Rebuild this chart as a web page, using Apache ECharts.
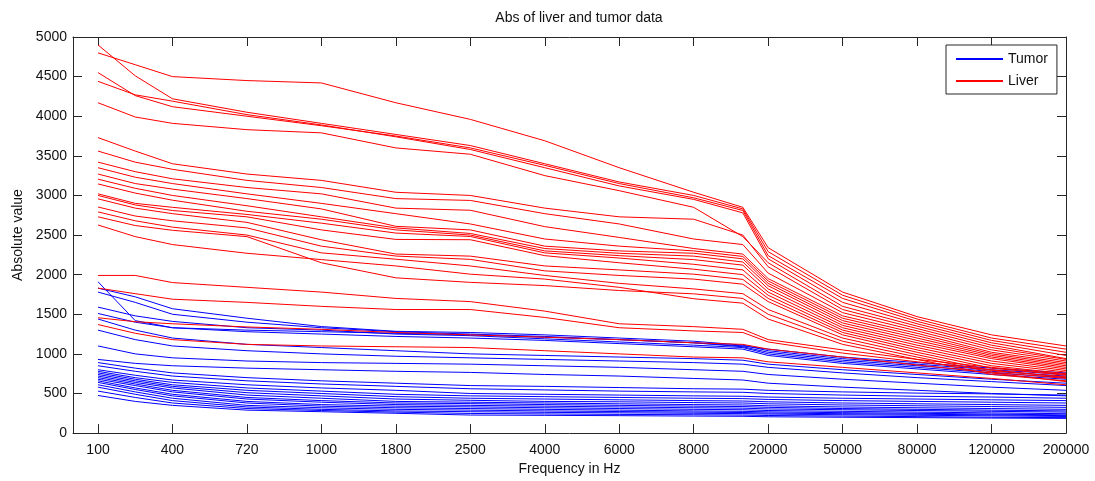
<!DOCTYPE html>
<html><head><meta charset="utf-8">
<script src="https://cdn.jsdelivr.net/npm/echarts@6/dist/echarts.min.js"></script>
<style>html,body{margin:0;padding:0;background:#fff}#c{width:1095px;height:481px}</style>
</head><body><div id="c"></div>
<script>
// sample positions along the (equally spaced) frequency tick index axis
const X_POS = [0, 0.5, 1, 2, 3, 4, 5, 6, 7, 8, 8.66, 9, 10, 11, 12, 13];
const X_TICK_LABELS = ['100','400','720','1000','1800','2500','4000','6000','8000','20000','50000','80000','120000','200000'];

const TUMOR_UPPER = [
  [1910, 1420, 1330, 1300, 1280, 1260, 1240, 1210, 1180, 1140, 1100, 1060, 960, 890, 820, 760],
  [1830, 1720, 1570, 1450, 1345, 1285, 1270, 1240, 1200, 1160, 1110, 1040, 940, 870, 800, 740],
  [1780, 1650, 1500, 1400, 1330, 1280, 1250, 1220, 1180, 1140, 1090, 1020, 920, 850, 780, 720],
  [1590, 1480, 1410, 1330, 1300, 1250, 1230, 1190, 1150, 1110, 1080, 1000, 900, 830, 760, 700],
  [1510, 1400, 1330, 1280, 1250, 1220, 1200, 1170, 1130, 1090, 1060, 980, 880, 810, 740, 680]
];
const TUMOR_MID = [
  [1440, 1300, 1200, 1120, 1080, 1040, 1000, 980, 960, 940, 920, 870, 800, 740, 680, 630],
  [1300, 1180, 1100, 1040, 1000, 970, 950, 930, 910, 890, 870, 830, 760, 700, 650, 600],
  [1100, 1000, 950, 910, 890, 880, 870, 850, 830, 800, 780, 740, 680, 630, 580, 540],
  [930, 880, 850, 820, 800, 780, 766, 740, 720, 690, 670, 630, 580, 540, 500, 470]
];
const TUMOR_LOW = [
  [890, 820, 760, 700, 660, 630, 600, 590, 575, 560, 555, 540, 520, 505, 495, 480],
  [850, 780, 720, 660, 620, 590, 560, 545, 530, 520, 515, 500, 480, 465, 455, 440],
  [800, 730, 670, 610, 570, 540, 500, 490, 480, 470, 465, 455, 440, 430, 420, 410],
  [780, 700, 640, 570, 530, 490, 470, 460, 450, 440, 435, 425, 410, 400, 390, 380],
  [760, 680, 610, 540, 500, 460, 440, 430, 420, 410, 405, 395, 380, 370, 360, 350],
  [740, 660, 590, 510, 470, 430, 414, 400, 395, 385, 380, 370, 355, 345, 335, 325],
  [720, 640, 570, 480, 440, 400, 390, 380, 370, 360, 355, 345, 330, 320, 310, 300],
  [700, 620, 540, 450, 410, 380, 372, 360, 350, 340, 335, 325, 310, 300, 290, 280],
  [680, 600, 520, 430, 390, 360, 350, 340, 330, 320, 315, 305, 295, 285, 275, 265],
  [660, 570, 490, 400, 360, 340, 331, 320, 310, 300, 295, 285, 275, 265, 255, 245],
  [640, 550, 470, 380, 340, 320, 310, 300, 290, 280, 275, 268, 258, 250, 240, 230],
  [610, 520, 440, 350, 320, 300, 290, 280, 272, 265, 260, 253, 245, 238, 230, 220],
  [580, 490, 410, 330, 300, 280, 270, 262, 256, 250, 246, 240, 232, 225, 218, 210],
  [530, 450, 380, 310, 285, 265, 248, 242, 236, 232, 228, 222, 215, 208, 200, 195],
  [475, 400, 350, 290, 270, 250, 228, 224, 220, 215, 212, 206, 200, 195, 190, 186]
];

const LIVER_TOP = [
  [4900, 4510, 4220, 4050, 3910, 3770, 3630, 3400, 3170, 3000, 2830, 2290, 1740, 1440, 1200, 1060],
  [4800, 4650, 4500, 4450, 4420, 4170, 3960, 3690, 3350, 3040, 2850, 2340, 1780, 1470, 1240, 1100],
  [4550, 4260, 4120, 4000, 3880, 3750, 3600, 3380, 3150, 2970, 2810, 2240, 1700, 1410, 1170, 1020],
  [4440, 4270, 4190, 4020, 3890, 3740, 3580, 3350, 3120, 2950, 2780, 2200, 1650, 1380, 1140, 980],
  [4170, 3990, 3910, 3830, 3790, 3600, 3520, 3250, 3060, 2850, 2480, 2150, 1600, 1350, 1110, 940]
];
const LIVER_MID = [
  [3730, 3560, 3400, 3270, 3190, 3040, 3000, 2840, 2730, 2700, 2500, 2100, 1560, 1320, 1080, 930],
  [3560, 3420, 3330, 3190, 3100, 2960, 2937, 2770, 2640, 2450, 2380, 2020, 1520, 1290, 1050, 910],
  [3420, 3300, 3210, 3100, 3020, 2840, 2813, 2606, 2470, 2330, 2260, 1950, 1480, 1260, 1020, 890],
  [3350, 3230, 3150, 3020, 2900, 2770, 2640, 2450, 2360, 2300, 2230, 1920, 1450, 1230, 1000, 870],
  [3270, 3150, 3080, 2960, 2830, 2610, 2565, 2360, 2300, 2270, 2200, 1890, 1420, 1200, 980, 850],
  [3205, 3090, 3000, 2870, 2730, 2590, 2520, 2330, 2270, 2234, 2160, 1860, 1390, 1170, 960, 830],
  [3145, 3030, 2940, 2800, 2700, 2565, 2500, 2300, 2240, 2190, 2120, 1820, 1360, 1140, 940, 810],
  [3020, 2900, 2850, 2760, 2650, 2525, 2482, 2275, 2210, 2131, 2060, 1780, 1330, 1110, 910, 790],
  [3000, 2880, 2810, 2730, 2565, 2445, 2441, 2240, 2150, 2069, 2000, 1740, 1300, 1080, 880, 770],
  [2957, 2840, 2770, 2660, 2440, 2260, 2234, 2110, 2060, 2006, 1940, 1700, 1270, 1050, 850, 750],
  [2854, 2740, 2680, 2590, 2360, 2235, 2193, 2048, 1990, 1944, 1880, 1660, 1240, 1020, 820, 730],
  [2792, 2680, 2600, 2500, 2275, 2195, 2110, 1990, 1890, 1820, 1760, 1560, 1200, 990, 790, 710],
  [2730, 2620, 2560, 2480, 2150, 1960, 1903, 1862, 1800, 1758, 1700, 1500, 1160, 960, 770, 690],
  [2627, 2480, 2380, 2270, 2190, 2110, 2006, 1944, 1840, 1696, 1640, 1440, 1120, 930, 740, 660]
];
const LIVER_LOW = [
  [1990, 1990, 1900, 1840, 1780, 1700, 1660, 1540, 1380, 1344, 1310, 1180, 1050, 930, 830, 740],
  [1830, 1760, 1690, 1650, 1600, 1560, 1560, 1460, 1330, 1290, 1270, 1150, 1010, 900, 800, 700],
  [1456, 1406, 1380, 1340, 1310, 1270, 1240, 1210, 1180, 1140, 1120, 1060, 960, 860, 760, 650],
  [1370, 1260, 1180, 1120, 1100, 1090, 1080, 1040, 1000, 960, 950, 900, 830, 760, 690, 610]
];

const FONT = "'Liberation Sans', Arial, Helvetica, sans-serif";
const TICK_IDX = X_TICK_LABELS.map((_, i) => i);
const AX = '#262626';
const BLUE = '#0000ff', RED = '#ff0000';

function mk(rows, name, color) {
  return rows.map(r => ({
    type: 'line', name: name, symbol: 'none', silent: true,
    itemStyle: { color: color },
    lineStyle: { width: 1, color: color }, emphasis: { disabled: true },
    data: X_POS.map((x, i) => [x, r[i]])
  }));
}
const series = [].concat(
  mk(TUMOR_UPPER, 'Tumor', BLUE), mk(TUMOR_MID, 'Tumor', BLUE), mk(TUMOR_LOW, 'Tumor', BLUE),
  mk(LIVER_TOP, 'Liver', RED), mk(LIVER_MID, 'Liver', RED), mk(LIVER_LOW, 'Liver', RED)
);

const chart = echarts.init(document.getElementById('c'), null, { renderer: 'canvas' });
const xBase = {
  type: 'value', min: -0.336, max: 13,
  axisLine: { show: true, onZero: false, lineStyle: { color: AX, width: 1 } },
  axisTick: { show: true, inside: true, length: 9, customValues: TICK_IDX, lineStyle: { color: AX } },
  splitLine: { show: false }
};
const yBase = {
  type: 'value', min: 0, max: 5000, interval: 500,
  axisLine: { show: true, onZero: false, lineStyle: { color: AX, width: 1 } },
  axisTick: { show: true, inside: true, length: 9, lineStyle: { color: AX } },
  splitLine: { show: false }
};
chart.setOption({
  animation: false,
  backgroundColor: '#fff',
  title: {
    text: 'Abs of liver and tumor data', left: 579, top: 11, textAlign: 'center', padding: 0,
    textStyle: { fontFamily: FONT, fontSize: 14, fontWeight: 'normal', color: '#111' }
  },
  grid: { left: 73, right: 29, top: 37, bottom: 41, containLabel: false },
  legend: {
    data: ['Tumor', 'Liver'], orient: 'vertical', left: 946, top: 45,
    padding: [7, 9, 6, 10], itemGap: 8, itemWidth: 47, itemHeight: 2, icon: 'rect',
    borderColor: AX, borderWidth: 1, backgroundColor: '#fff', selectedMode: false,
    textStyle: { fontFamily: FONT, fontSize: 14, color: '#111' }
  },
  xAxis: [
    Object.assign({}, xBase, {
      position: 'bottom',
      axisLabel: { show: true, customValues: TICK_IDX, formatter: v => X_TICK_LABELS[Math.round(v)],
        margin: 10, fontFamily: FONT, fontSize: 14, color: '#111' },
      name: 'Frequency in Hz', nameLocation: 'middle', nameGap: 28,
      nameTextStyle: { fontFamily: FONT, fontSize: 14, color: '#111' }
    }),
    Object.assign({}, xBase, { position: 'top', axisLabel: { show: false } })
  ],
  yAxis: [
    Object.assign({}, yBase, {
      position: 'left',
      axisLabel: { show: true, margin: 6, formatter: v => String(v), fontFamily: FONT, fontSize: 14, color: '#111' },
      name: 'Absolute value', nameLocation: 'middle', nameGap: 48,
      nameTextStyle: { fontFamily: FONT, fontSize: 14, color: '#111' }
    }),
    Object.assign({}, yBase, { position: 'right', axisLabel: { show: false } })
  ],
  series: series
});
</script></body></html>
